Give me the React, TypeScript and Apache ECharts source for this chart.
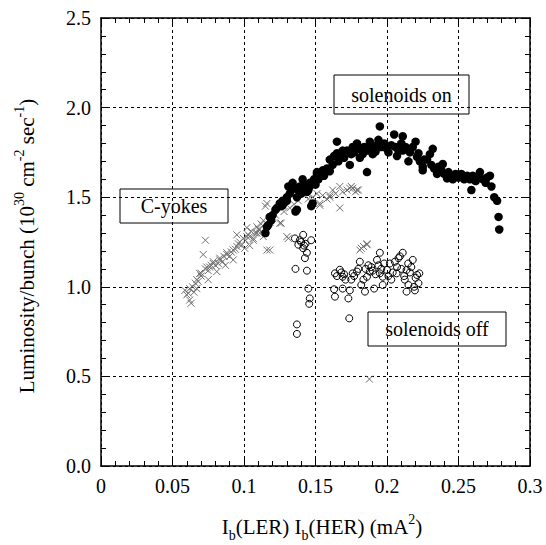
import React, { useEffect, useRef } from "react";
import * as echarts from "echarts";

const xTickLabels = ["0", "0.05", "0.1", "0.15", "0.2", "0.25", "0.3"];
const yTickLabels = ["0.0", "0.5", "1.0", "1.5", "2.0", "2.5"];

const solenoidsOn: number[][] = [
  [0.115, 1.30], [0.116, 1.335], [0.117, 1.345], [0.118, 1.39], [0.119, 1.37], [0.120, 1.40],
  [0.122, 1.43], [0.123, 1.44], [0.125, 1.465], [0.126, 1.45], [0.127, 1.455], [0.127, 1.48],
  [0.128, 1.47], [0.130, 1.48], [0.130, 1.50], [0.131, 1.56], [0.132, 1.52], [0.133, 1.54],
  [0.134, 1.58], [0.135, 1.55], [0.136, 1.42], [0.137, 1.43], [0.137, 1.50], [0.138, 1.54],
  [0.139, 1.56], [0.140, 1.52], [0.141, 1.60], [0.142, 1.57], [0.143, 1.55], [0.144, 1.53],
  [0.145, 1.54], [0.146, 1.58], [0.146, 1.56], [0.147, 1.45], [0.148, 1.465], [0.149, 1.60],
  [0.150, 1.57], [0.151, 1.63], [0.151, 1.64], [0.152, 1.60], [0.153, 1.615], [0.155, 1.65],
  [0.156, 1.62], [0.158, 1.66], [0.160, 1.645], [0.160, 1.71], [0.162, 1.68], [0.163, 1.73],
  [0.165, 1.745], [0.165, 1.81], [0.166, 1.70], [0.168, 1.74], [0.169, 1.76], [0.170, 1.72],
  [0.172, 1.76], [0.174, 1.68], [0.175, 1.74], [0.176, 1.78], [0.177, 1.75], [0.179, 1.80],
  [0.180, 1.77], [0.181, 1.72], [0.183, 1.74], [0.184, 1.78], [0.186, 1.64], [0.186, 1.76],
  [0.188, 1.81], [0.189, 1.78], [0.190, 1.74], [0.192, 1.755], [0.193, 1.79], [0.194, 1.82],
  [0.195, 1.80], [0.195, 1.895], [0.196, 1.78], [0.198, 1.80], [0.200, 1.77], [0.201, 1.75],
  [0.203, 1.79], [0.205, 1.85], [0.206, 1.78], [0.207, 1.73], [0.208, 1.76], [0.210, 1.80],
  [0.211, 1.84], [0.211, 1.76], [0.213, 1.78], [0.215, 1.70], [0.216, 1.75], [0.218, 1.78],
  [0.220, 1.81], [0.221, 1.725], [0.222, 1.745], [0.223, 1.70], [0.225, 1.65], [0.225, 1.67],
  [0.226, 1.71], [0.228, 1.71], [0.230, 1.74], [0.231, 1.68], [0.232, 1.77], [0.233, 1.66],
  [0.235, 1.63], [0.236, 1.67], [0.238, 1.65], [0.239, 1.685], [0.240, 1.63], [0.242, 1.605],
  [0.243, 1.64], [0.245, 1.62], [0.246, 1.60], [0.248, 1.63], [0.250, 1.61], [0.252, 1.63],
  [0.254, 1.60], [0.256, 1.62], [0.258, 1.60], [0.259, 1.54], [0.260, 1.62], [0.262, 1.59],
  [0.264, 1.61], [0.265, 1.64], [0.267, 1.60], [0.269, 1.58], [0.270, 1.61], [0.272, 1.62],
  [0.273, 1.56], [0.275, 1.50], [0.277, 1.48], [0.278, 1.39], [0.2785, 1.32],
];

const cYokes: number[][] = [
  [0.0587, 0.98], [0.060, 0.955], [0.061, 0.965], [0.062, 0.926], [0.063, 0.908], [0.062, 0.99],
  [0.064, 1.00], [0.065, 0.97], [0.066, 1.02], [0.067, 0.99], [0.067, 1.04], [0.068, 1.03],
  [0.069, 1.075], [0.070, 1.06], [0.070, 1.075], [0.0715, 1.18], [0.073, 1.26], [0.073, 1.10],
  [0.074, 1.11], [0.075, 1.04], [0.075, 1.09], [0.076, 1.11], [0.077, 1.12], [0.0785, 1.13],
  [0.0785, 1.14], [0.080, 1.12], [0.081, 1.085], [0.082, 1.13], [0.083, 1.15], [0.083, 1.16],
  [0.085, 1.14], [0.086, 1.17], [0.087, 1.12], [0.088, 1.18], [0.088, 1.19], [0.090, 1.17],
  [0.091, 1.195], [0.0925, 1.15], [0.0925, 1.205], [0.094, 1.21], [0.095, 1.225], [0.095, 1.29],
  [0.096, 1.24], [0.097, 1.25], [0.098, 1.23], [0.0995, 1.27], [0.1005, 1.215], [0.101, 1.26],
  [0.102, 1.28], [0.102, 1.33], [0.103, 1.29], [0.104, 1.23], [0.104, 1.28], [0.105, 1.31],
  [0.1065, 1.26], [0.1065, 1.27], [0.108, 1.30], [0.109, 1.30], [0.109, 1.335], [0.110, 1.32],
  [0.111, 1.30], [0.111, 1.32], [0.112, 1.35], [0.1135, 1.28], [0.1135, 1.37], [0.115, 1.45],
  [0.116, 1.205], [0.116, 1.465], [0.118, 1.205], [0.118, 1.36], [0.120, 1.38], [0.122, 1.40],
  [0.125, 1.355], [0.126, 1.355], [0.128, 1.42], [0.130, 1.28], [0.131, 1.27], [0.132, 1.44],
  [0.135, 1.46], [0.138, 1.48], [0.1438, 1.52], [0.145, 1.49], [0.148, 1.50], [0.151, 1.52],
  [0.153, 1.455], [0.153, 1.465], [0.155, 1.51], [0.158, 1.49], [0.160, 1.50], [0.160, 1.51],
  [0.162, 1.54], [0.164, 1.52], [0.167, 1.56], [0.167, 1.44], [0.169, 1.53], [0.172, 1.54],
  [0.174, 1.55], [0.175, 1.56], [0.176, 1.55], [0.178, 1.53], [0.179, 1.54], [0.180, 1.54],
  [0.181, 1.205], [0.182, 1.215], [0.1835, 1.225], [0.186, 1.235], [0.186, 1.24], [0.1877, 0.485],
];

const solenoidsOff: number[][] = [
  [0.1356, 1.27], [0.1414, 1.29], [0.147, 1.26], [0.138, 1.235], [0.139, 1.26], [0.140, 1.25],
  [0.1414, 1.215], [0.142, 1.23], [0.143, 1.24], [0.144, 1.19], [0.1426, 1.16], [0.136, 1.10],
  [0.144, 1.09], [0.145, 0.99], [0.146, 0.935], [0.1456, 0.905], [0.137, 0.79], [0.137, 0.737],
  [0.163, 0.986], [0.1636, 0.945], [0.1636, 1.075], [0.165, 1.06], [0.167, 1.095], [0.168, 1.08],
  [0.169, 1.056], [0.169, 0.99], [0.170, 1.07], [0.171, 1.04], [0.173, 0.935], [0.1736, 0.824],
  [0.174, 0.98], [0.175, 1.04], [0.176, 1.075], [0.177, 1.06], [0.179, 1.085], [0.180, 1.10],
  [0.181, 1.14], [0.182, 1.01], [0.1835, 1.04], [0.1846, 0.973], [0.185, 1.10], [0.186, 1.056],
  [0.187, 1.12], [0.188, 1.085], [0.189, 1.11], [0.190, 1.09], [0.191, 0.99], [0.192, 1.07],
  [0.193, 1.15], [0.194, 1.12], [0.195, 1.19], [0.195, 1.075], [0.196, 1.10], [0.197, 1.056],
  [0.197, 1.01], [0.198, 1.13], [0.200, 1.094], [0.201, 1.06], [0.202, 1.13], [0.203, 1.04],
  [0.204, 1.08], [0.2055, 1.14], [0.2067, 1.075], [0.207, 1.11], [0.208, 1.16], [0.209, 1.17],
  [0.210, 1.10], [0.211, 1.19], [0.212, 1.06], [0.2124, 1.04], [0.2137, 1.094], [0.2137, 0.973],
  [0.2148, 1.13], [0.215, 1.01], [0.216, 1.08], [0.217, 1.11], [0.218, 1.15], [0.219, 1.00],
  [0.2195, 0.98], [0.220, 1.05], [0.221, 1.066], [0.2226, 1.075], [0.222, 1.02],
];

const FONT = "Times New Roman, Liberation Serif, DejaVu Serif, serif";

function box(x: number, y: number, w: number, h: number, label: string) {
  return {
    type: "group",
    z: 100,
    children: [
      {
        type: "rect",
        shape: { x, y, width: w, height: h },
        style: { fill: "#fff", stroke: "#000", lineWidth: 1 },
      },
      {
        type: "text",
        x: x + w / 2,
        y: y + h / 2,
        style: {
          text: label,
          fontFamily: FONT,
          fontSize: 20,
          fill: "#000",
          align: "center",
          verticalAlign: "middle",
        },
      },
    ],
  };
}

export default function App() {
  const ref = useRef<HTMLDivElement>(null);
  useEffect(() => {
    if (!ref.current) return;
    const chart = echarts.init(ref.current, null, { renderer: "svg" });
    const axisLine = { show: true, onZero: false, lineStyle: { color: "#000", width: 1.5 } };
    const tick = { show: true, inside: true, length: 9, lineStyle: { color: "#000", width: 1 } };
    const minor = { show: true, splitNumber: 5, length: 5, lineStyle: { color: "#000", width: 1 } };
    const split = { show: true, lineStyle: { color: "#000", width: 1, type: [3, 3] as any } };
    const labelStyle = { color: "#000", fontFamily: FONT, fontSize: 20 };

    const rich = {
      n: { fontFamily: FONT, fontSize: 21, lineHeight: 30, verticalAlign: "middle", fill: "#000" },
      s: { fontFamily: FONT, fontSize: 14, lineHeight: 14, verticalAlign: "bottom", fill: "#000" },
      p: { fontFamily: FONT, fontSize: 14, lineHeight: 14, verticalAlign: "top", fill: "#000" },
    };

    chart.setOption({
      animation: false,
      backgroundColor: "#fff",
      textStyle: { fontFamily: FONT },
      grid: { left: 101, top: 18, width: 429, height: 448, containLabel: false },
      xAxis: [
        {
          type: "value", min: 0, max: 0.3, interval: 0.05, position: "bottom",
          axisLine, axisTick: tick, minorTick: minor, splitLine: split,
          axisLabel: {
            ...labelStyle, margin: 10,
            formatter: (v: number) => xTickLabels[Math.round(v / 0.05)] ?? "",
          },
        },
        {
          type: "value", min: 0, max: 0.3, interval: 0.05, position: "top",
          axisLine, axisTick: tick, minorTick: minor, splitLine: { show: false },
          axisLabel: { show: false },
        },
      ],
      yAxis: [
        {
          type: "value", min: 0, max: 2.5, interval: 0.5, position: "left",
          axisLine, axisTick: tick, minorTick: minor, splitLine: split,
          axisLabel: {
            ...labelStyle, margin: 10,
            formatter: (v: number) => yTickLabels[Math.round(v / 0.5)] ?? "",
          },
        },
        {
          type: "value", min: 0, max: 2.5, interval: 0.5, position: "right",
          axisLine, axisTick: tick, minorTick: minor, splitLine: { show: false },
          axisLabel: { show: false },
        },
      ],
      series: [
        {
          name: "C-yokes", type: "scatter", data: cYokes,
          symbol: "path://M0,0L10,10M10,0L0,10", symbolSize: 7,
          itemStyle: { color: "transparent", borderColor: "#707070", borderWidth: 1, opacity: 1 },
          z: 2,
        },
        {
          name: "solenoids off", type: "scatter", data: solenoidsOff,
          symbol: "circle", symbolSize: 7,
          itemStyle: { color: "transparent", borderColor: "#000", borderWidth: 1, opacity: 1 },
          z: 3,
        },
        {
          name: "solenoids on", type: "scatter", data: solenoidsOn,
          symbol: "circle", symbolSize: 8.5,
          itemStyle: { color: "#000", opacity: 1 },
          z: 4,
        },
      ],
      graphic: [
        box(120, 189, 108, 34, "C-yokes"),
        box(334, 75, 135, 39, "solenoids on"),
        box(368, 312, 138, 34, "solenoids off"),
        {
          type: "text",
          x: 322,
          y: 527,
          style: {
            text: "{n|I}{s|b}{n|(LER) I}{s|b}{n|(HER) (mA}{p|2}{n|)}",
            rich,
            fontFamily: FONT,
            align: "center",
            verticalAlign: "middle",
            fill: "#000",
          },
        },
        {
          type: "text",
          x: 27,
          y: 246,
          rotation: Math.PI / 2,
          style: {
            text: "{n|Luminosity/bunch (10}{p|30}{n| cm}{p|-2}{n| sec}{p|-1}{n|)}",
            rich,
            fontFamily: FONT,
            align: "center",
            verticalAlign: "middle",
            fill: "#000",
          },
        },
      ],
    });
    return () => chart.dispose();
  }, []);
  return (
    <div
      ref={ref}
      style={{ position: "absolute", left: 0, top: 0, width: 546, height: 545, background: "#fff" }}
    />
  );
}
